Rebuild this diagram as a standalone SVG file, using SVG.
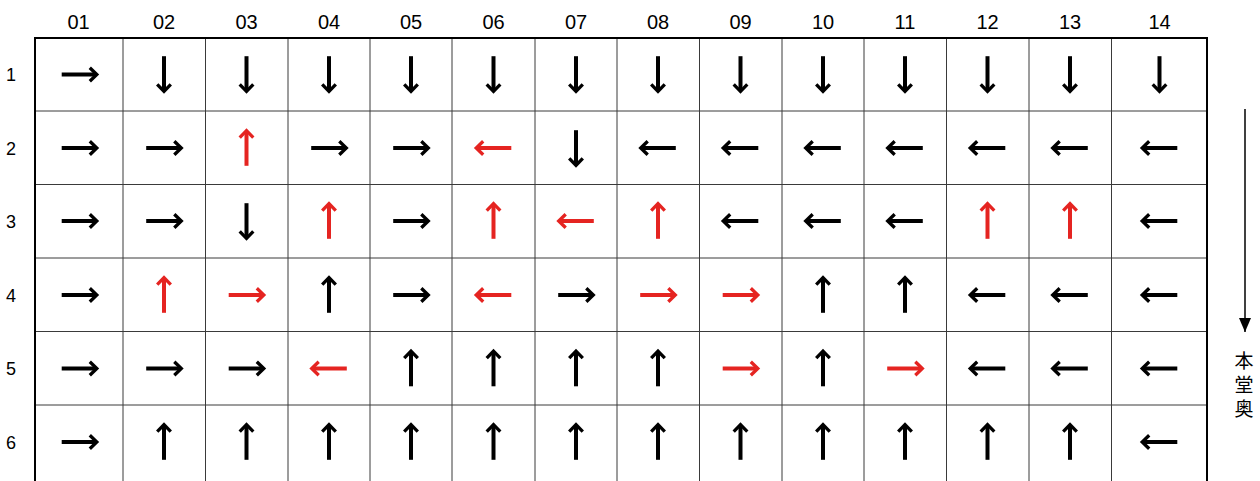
<svg xmlns="http://www.w3.org/2000/svg" width="1260" height="481" viewBox="0 0 1260 481">
  <style>
    .bg { fill: #ffffff; }
    .inner { stroke: #3a3a3a; stroke-width: 1; fill: none; }
    .frame { stroke: #000000; stroke-width: 2; fill: none; }
    .col { font-family: "Liberation Sans", "Noto Sans CJK JP", sans-serif; font-size: 20px; fill: #000; text-anchor: middle; }
    .row { font-family: "Liberation Sans", "Noto Sans CJK JP", sans-serif; font-size: 18px; fill: #000; text-anchor: middle; }
    .k { color: #000000; }
    .r { color: #e52421; }
    .side { font-family: "Noto Sans CJK JP", sans-serif; font-size: 19px; fill: #000; letter-spacing: 5px; }
  </style>
  <defs>
    <!-- cell arrow, pointing right, centred on the origin -->
    <g id="arr" stroke="currentColor" fill="none">
      <path d="M-17.8,0 H16" stroke-width="4"/>
      <path d="M10.3,-6.8 L17.3,0 L10.3,6.8" stroke-width="3.3" stroke-linejoin="miter" stroke-miterlimit="10"/>
    </g>
    <marker id="head" viewBox="0 0 14 12" refX="14" refY="6" markerWidth="14" markerHeight="12" markerUnits="userSpaceOnUse" orient="auto">
      <path d="M0,0 L14,6 L0,12 Z" fill="#000"/>
    </marker>
  </defs>

  <rect class="bg" x="0" y="0" width="1260" height="481"/>

  <!-- table grid -->
  <g id="grid">
    <g class="inner">
      <line x1="123" y1="38" x2="123" y2="483"/>
      <line x1="205.5" y1="38" x2="205.5" y2="483"/>
      <line x1="288" y1="38" x2="288" y2="483"/>
      <line x1="370" y1="38" x2="370" y2="483"/>
      <line x1="452" y1="38" x2="452" y2="483"/>
      <line x1="535" y1="38" x2="535" y2="483"/>
      <line x1="617" y1="38" x2="617" y2="483"/>
      <line x1="699.5" y1="38" x2="699.5" y2="483"/>
      <line x1="782" y1="38" x2="782" y2="483"/>
      <line x1="864" y1="38" x2="864" y2="483"/>
      <line x1="946.5" y1="38" x2="946.5" y2="483"/>
      <line x1="1029" y1="38" x2="1029" y2="483"/>
      <line x1="1111.5" y1="38" x2="1111.5" y2="483"/>
      <line x1="35" y1="111" x2="1207" y2="111"/>
      <line x1="35" y1="184.5" x2="1207" y2="184.5"/>
      <line x1="35" y1="258" x2="1207" y2="258"/>
      <line x1="35" y1="331.5" x2="1207" y2="331.5"/>
      <line x1="35" y1="405" x2="1207" y2="405"/>
    </g>
    <path class="frame" d="M35,484 L35,38 L1207,38 L1207,484"/>
  </g>

  <!-- column numbers -->
  <g id="col-labels" class="col">
    <text x="78.5" y="28.5">01</text>
    <text x="164" y="28.5">02</text>
    <text x="246.5" y="28.5">03</text>
    <text x="329" y="28.5">04</text>
    <text x="411" y="28.5">05</text>
    <text x="493.5" y="28.5">06</text>
    <text x="576" y="28.5">07</text>
    <text x="658" y="28.5">08</text>
    <text x="740.5" y="28.5">09</text>
    <text x="823" y="28.5">10</text>
    <text x="905" y="28.5">11</text>
    <text x="987.5" y="28.5">12</text>
    <text x="1070" y="28.5">13</text>
    <text x="1159.5" y="28.5">14</text>
  </g>

  <!-- row numbers -->
  <g id="row-labels" class="row">
    <text x="11" y="81">1</text>
    <text x="11" y="155">2</text>
    <text x="11" y="228">3</text>
    <text x="11" y="302">4</text>
    <text x="11" y="375">5</text>
    <text x="11" y="449">6</text>
  </g>

  <!-- direction arrows per cell: R = right, D = down (90), U = up (-90), L = left (180) -->
  <g id="row1">
    <use href="#arr" class="k" transform="translate(79.5,74.5)"/>
    <use href="#arr" class="k" transform="translate(164,74) rotate(90)"/>
    <use href="#arr" class="k" transform="translate(246.5,74) rotate(90)"/>
    <use href="#arr" class="k" transform="translate(329,74) rotate(90)"/>
    <use href="#arr" class="k" transform="translate(411,74) rotate(90)"/>
    <use href="#arr" class="k" transform="translate(493.5,74) rotate(90)"/>
    <use href="#arr" class="k" transform="translate(576,74) rotate(90)"/>
    <use href="#arr" class="k" transform="translate(658,74) rotate(90)"/>
    <use href="#arr" class="k" transform="translate(740.5,74) rotate(90)"/>
    <use href="#arr" class="k" transform="translate(823,74) rotate(90)"/>
    <use href="#arr" class="k" transform="translate(905,74) rotate(90)"/>
    <use href="#arr" class="k" transform="translate(987.5,74) rotate(90)"/>
    <use href="#arr" class="k" transform="translate(1070,74) rotate(90)"/>
    <use href="#arr" class="k" transform="translate(1159.5,74) rotate(90)"/>
  </g>
  <g id="row2">
    <use href="#arr" class="k" transform="translate(79.5,148)"/>
    <use href="#arr" class="k" transform="translate(164,148)"/>
    <use href="#arr" class="r" transform="translate(246.5,148) rotate(-90)"/>
    <use href="#arr" class="k" transform="translate(329,148)"/>
    <use href="#arr" class="k" transform="translate(411,148)"/>
    <use href="#arr" class="r" transform="translate(493.5,148) rotate(180)"/>
    <use href="#arr" class="k" transform="translate(576,148) rotate(90)"/>
    <use href="#arr" class="k" transform="translate(658,148) rotate(180)"/>
    <use href="#arr" class="k" transform="translate(740.5,148) rotate(180)"/>
    <use href="#arr" class="k" transform="translate(823,148) rotate(180)"/>
    <use href="#arr" class="k" transform="translate(905,148) rotate(180)"/>
    <use href="#arr" class="k" transform="translate(987.5,148) rotate(180)"/>
    <use href="#arr" class="k" transform="translate(1070,148) rotate(180)"/>
    <use href="#arr" class="k" transform="translate(1159.5,148) rotate(180)"/>
  </g>
  <g id="row3">
    <use href="#arr" class="k" transform="translate(79.5,221)"/>
    <use href="#arr" class="k" transform="translate(164,221)"/>
    <use href="#arr" class="k" transform="translate(246.5,221) rotate(90)"/>
    <use href="#arr" class="r" transform="translate(329,221) rotate(-90)"/>
    <use href="#arr" class="k" transform="translate(411,221)"/>
    <use href="#arr" class="r" transform="translate(493.5,221) rotate(-90)"/>
    <use href="#arr" class="r" transform="translate(576,221) rotate(180)"/>
    <use href="#arr" class="r" transform="translate(658,221) rotate(-90)"/>
    <use href="#arr" class="k" transform="translate(740.5,221) rotate(180)"/>
    <use href="#arr" class="k" transform="translate(823,221) rotate(180)"/>
    <use href="#arr" class="k" transform="translate(905,221) rotate(180)"/>
    <use href="#arr" class="r" transform="translate(987.5,221) rotate(-90)"/>
    <use href="#arr" class="r" transform="translate(1070,221) rotate(-90)"/>
    <use href="#arr" class="k" transform="translate(1159.5,221) rotate(180)"/>
  </g>
  <g id="row4">
    <use href="#arr" class="k" transform="translate(79.5,295)"/>
    <use href="#arr" class="r" transform="translate(164,295) rotate(-90)"/>
    <use href="#arr" class="r" transform="translate(246.5,295)"/>
    <use href="#arr" class="k" transform="translate(329,295) rotate(-90)"/>
    <use href="#arr" class="k" transform="translate(411,295)"/>
    <use href="#arr" class="r" transform="translate(493.5,295) rotate(180)"/>
    <use href="#arr" class="k" transform="translate(576,295)"/>
    <use href="#arr" class="r" transform="translate(658,295)"/>
    <use href="#arr" class="r" transform="translate(740.5,295)"/>
    <use href="#arr" class="k" transform="translate(823,295) rotate(-90)"/>
    <use href="#arr" class="k" transform="translate(905,295) rotate(-90)"/>
    <use href="#arr" class="k" transform="translate(987.5,295) rotate(180)"/>
    <use href="#arr" class="k" transform="translate(1070,295) rotate(180)"/>
    <use href="#arr" class="k" transform="translate(1159.5,295) rotate(180)"/>
  </g>
  <g id="row5">
    <use href="#arr" class="k" transform="translate(79.5,368.5)"/>
    <use href="#arr" class="k" transform="translate(164,368.5)"/>
    <use href="#arr" class="k" transform="translate(246.5,368.5)"/>
    <use href="#arr" class="r" transform="translate(329,368.5) rotate(180)"/>
    <use href="#arr" class="k" transform="translate(411,368.5) rotate(-90)"/>
    <use href="#arr" class="k" transform="translate(493.5,368.5) rotate(-90)"/>
    <use href="#arr" class="k" transform="translate(576,368.5) rotate(-90)"/>
    <use href="#arr" class="k" transform="translate(658,368.5) rotate(-90)"/>
    <use href="#arr" class="r" transform="translate(740.5,368.5)"/>
    <use href="#arr" class="k" transform="translate(823,368.5) rotate(-90)"/>
    <use href="#arr" class="r" transform="translate(905,368.5)"/>
    <use href="#arr" class="k" transform="translate(987.5,368.5) rotate(180)"/>
    <use href="#arr" class="k" transform="translate(1070,368.5) rotate(180)"/>
    <use href="#arr" class="k" transform="translate(1159.5,368.5) rotate(180)"/>
  </g>
  <g id="row6">
    <use href="#arr" class="k" transform="translate(79.5,442)"/>
    <use href="#arr" class="k" transform="translate(164,442) rotate(-90)"/>
    <use href="#arr" class="k" transform="translate(246.5,442) rotate(-90)"/>
    <use href="#arr" class="k" transform="translate(329,442) rotate(-90)"/>
    <use href="#arr" class="k" transform="translate(411,442) rotate(-90)"/>
    <use href="#arr" class="k" transform="translate(493.5,442) rotate(-90)"/>
    <use href="#arr" class="k" transform="translate(576,442) rotate(-90)"/>
    <use href="#arr" class="k" transform="translate(658,442) rotate(-90)"/>
    <use href="#arr" class="k" transform="translate(740.5,442) rotate(-90)"/>
    <use href="#arr" class="k" transform="translate(823,442) rotate(-90)"/>
    <use href="#arr" class="k" transform="translate(905,442) rotate(-90)"/>
    <use href="#arr" class="k" transform="translate(987.5,442) rotate(-90)"/>
    <use href="#arr" class="k" transform="translate(1070,442) rotate(-90)"/>
    <use href="#arr" class="k" transform="translate(1159.5,442) rotate(180)"/>
  </g>

  <!-- direction toward the back of the main hall -->
  <g id="connectors">
    <line x1="1245" y1="109" x2="1245" y2="332" stroke="#000" stroke-width="1.5" marker-end="url(#head)"/>
  </g>
  <g id="hall-label">
    <text class="side" x="1244" y="351" writing-mode="vertical-rl">本堂奥</text>
  </g>
</svg>
